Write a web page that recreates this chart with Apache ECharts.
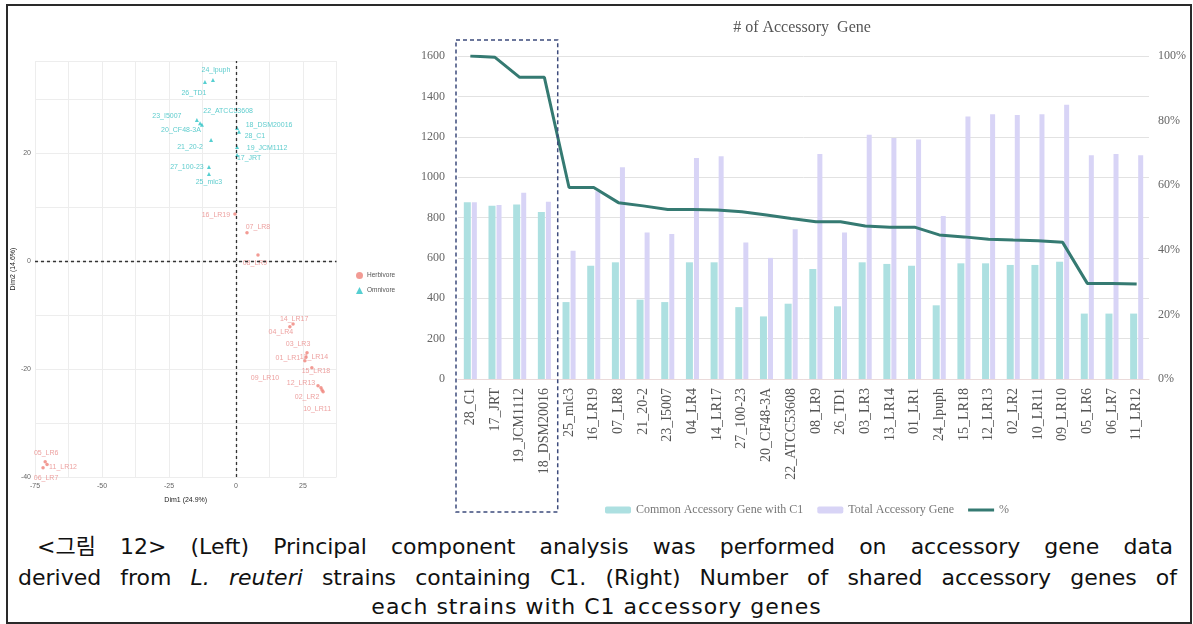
<!DOCTYPE html>
<html>
<head>
<meta charset="utf-8">
<script src="https://cdn.jsdelivr.net/npm/echarts@6/dist/echarts.min.js"></script>
<style>
  html, body { margin: 0; padding: 0; background: #fff; }
  #frame { position: absolute; left: 6px; top: 4px; width: 1182px; height: 616px; border: 2px solid #2a2a2a; }
  #chart { position: absolute; left: 0; top: 0; width: 1193px; height: 524px; }
  .cap { position: absolute; font-family: 'DejaVu Sans', 'Noto Sans CJK KR', sans-serif; font-size: 22px;
         color: #111; line-height: 30px; white-space: nowrap; }
  .just { text-align: justify; text-align-last: justify; white-space: normal; }
</style>
</head>
<body>
<div id="frame"></div>
<div id="chart"></div>
<div class="cap just" style="left:37px; top:532px; width:1136px;">&lt;그림 12&gt; (Left) Principal component analysis was performed on accessory gene data</div>
<div class="cap just" style="left:18px; top:563px; width:1159px;">derived from <i>L. reuteri</i> strains containing C1. (Right) Number of shared accessory genes of</div>
<div class="cap" style="left:0; top:592px; width:1193px; text-align:center; letter-spacing:1px;">each strains with C1 accessory genes</div>
<script>
// ---- PCA of accessory gene content (Dim1 / Dim2 scores) ----
const herbNames = ['16_LR19', '07_LR8', '08_LR9', '14_LR17', '04_LR4', '03_LR3', '01_LR1', '13_LR14',
                   '15_LR18', '09_LR10', '12_LR13', '02_LR2', '10_LR11', '05_LR6', '11_LR12', '06_LR7'];
const herbDim1 = [-0.4, 4.1, 8.2, 21.3, 20.1, 26.5, 25.7, 26.1, 28.3, 30.6, 31.7, 32.1, 32.5, -71.2, -70.5, -72.0];
const herbDim2 = [8.7, 5.2, 1.1, -11.7, -12.2, -17.0, -18.5, -17.8, -19.8, -23.1, -23.5, -23.9, -24.2, -37.2, -37.7, -38.3];

const omniNames = ['24_lpuph', '26_TD1', '23_I5007', '22_ATCC53608', '20_CF48-3A', '21_20-2',
                   '27_100-23', '25_mlc3', '18_DSM20016', '28_C1', '19_JCM1112', '17_JRT'];
const omniDim1 = [-8.6, -11.6, -14.6, -13.4, -12.7, -9.3, -10.1, -10.1, 0.4, 1.1, 0.4, 0.4];
const omniDim2 = [33.5, 33.1, 26.1, 25.5, 25.2, 22.4, 17.4, 16.1, 24.6, 23.9, 21.1, 19.6];

// ---- accessory genes shared with C1 ----
const strains = ['28_C1', '17_JRT', '19_JCM1112', '18_DSM20016', '25_mlc3', '16_LR19', '07_LR8', '21_20-2',
                 '23_I5007', '04_LR4', '14_LR17', '27_100-23', '20_CF48-3A', '22_ATCC53608', '08_LR9', '26_TD1',
                 '03_LR3', '13_LR14', '01_LR1', '24_lpuph', '15_LR18', '12_LR13', '02_LR2', '10_LR11',
                 '09_LR10', '05_LR6', '06_LR7', '11_LR12'];
const commonGenes = [875, 858, 865, 827, 381, 561, 578, 393, 381, 578, 578, 356, 310, 373, 545, 360,
                     578, 570, 561, 365, 573, 573, 565, 565, 581, 324, 324, 324];
const totalGenes = [875, 862, 923, 878, 635, 930, 1049, 726, 718, 1095, 1103, 676, 600, 742, 1115, 726,
                    1210, 1194, 1186, 808, 1300, 1312, 1308, 1312, 1358, 1108, 1115, 1108];
const sharedPct = [100, 99.6, 93.4, 93.4, 59.3, 59.3, 54.6, 53.6, 52.5, 52.5, 52.3, 51.8, 50.8, 49.7, 48.7, 48.7,
                   47.4, 47.0, 47.0, 44.6, 44.0, 43.3, 43.0, 42.8, 42.3, 29.6, 29.6, 29.4];

// repelled label placement (pixel offset of each label from its point)
const labelNudge = {
  '24_lpuph': [3, -10], '26_TD1': [-11, 11], '23_I5007': [-30, -4], '22_ATCC53608': [28, -12],
  '20_CF48-3A': [-21, 5], '21_20-2': [-21, 7], '27_100-23': [-22, 0], '25_mlc3': [0, 8],
  '18_DSM20016': [32, -3], '28_C1': [16, 4], '19_JCM1112': [30, 1], '17_JRT': [12, 3],
  '16_LR19': [-19, 1], '07_LR8': [11, -6], '08_LR9': [-3, 8], '14_LR17': [1, -5], '04_LR4': [-9, 5],
  '03_LR3': [-9, -9], '01_LR1': [-17, -3], '13_LR14': [8, 0], '15_LR18': [4, 3], '09_LR10': [-53, -8],
  '12_LR13': [-20, -5], '02_LR2': [-15, 7], '10_LR11': [-6, 17], '05_LR6': [1, -9], '11_LR12': [16, 2],
  '06_LR7': [3, 10]
};

function scores(names, xs, ys) {
  return names.map((n, i) => ({
    name: n,
    value: [xs[i], ys[i]],
    label: { offset: labelNudge[n] || [0, -6] }
  }));
}

const serif = 'Liberation Serif';
const sans = 'Liberation Sans';
const HERB = '#ef8279', OMNI = '#2cc3c6';
const LINE = '#357a72';

const chart = echarts.init(document.getElementById('chart'), null, { renderer: 'canvas' });

const option = {
  animation: false,
  backgroundColor: 'transparent',
  graphic: [{
    type: 'text', x: 802, y: 28,
    style: { text: '# of Accessory  Gene', fontFamily: serif, fontSize: 16, fill: '#555',
             textAlign: 'center', textVerticalAlign: 'middle' }
  }],
  legend: [{
    data: ['Common Accessory Gene with C1', 'Total Accessory Gene',
           { name: '%', icon: 'path://M0,0 L26,0 L26,3 L0,3 Z' }],
    left: 600, top: 499, itemWidth: 26, itemHeight: 7, itemGap: 14,
    textStyle: { fontFamily: serif, fontSize: 12, color: '#777' }
  }, {
    data: [{ name: 'Herbivore', icon: 'circle' }, { name: 'Omnivore', icon: 'triangle' }],
    orient: 'vertical', left: 351, top: 267, itemWidth: 7, itemHeight: 7, itemGap: 8,
    textStyle: { fontFamily: sans, fontSize: 6.5, color: '#555', padding: [0, 0, 0, -1] }
  }],
  grid: [
    { left: 35, top: 61, width: 301.5, height: 416 },
    { left: 458, right: 44, top: 56, bottom: 145 }
  ],
  xAxis: [{
    type: 'value', gridIndex: 0, min: -75, max: 37.5, interval: 12.5,
    name: 'Dim1 (24.9%)', nameLocation: 'middle', nameGap: 20,
    nameTextStyle: { fontFamily: sans, fontSize: 7, color: '#222' },
    axisLine: { show: false },
    axisTick: { show: false },
    axisLabel: { fontFamily: sans, fontSize: 7, color: '#666', margin: 6,
                 formatter: v => (v % 25 === 0 ? String(v) : '') },
    splitLine: { lineStyle: { color: '#ededed', width: 1 } }
  }, {
    type: 'category', gridIndex: 1, data: strains,
    axisLine: { lineStyle: { color: '#eadada', width: 1 } },
    axisTick: { show: false },
    axisLabel: { rotate: 90, fontFamily: serif, fontSize: 14, color: '#555', margin: 9, interval: 0 },
    splitLine: { show: false }
  }],
  yAxis: [{
    type: 'value', gridIndex: 0, min: -40, max: 37, interval: 10,
    name: 'Dim2 (14.6%)', nameLocation: 'middle', nameGap: 13, nameRotate: 90,
    nameTextStyle: { fontFamily: sans, fontSize: 7, color: '#222' },
    axisLine: { show: false },
    axisTick: { show: false },
    axisLabel: { fontFamily: sans, fontSize: 7, color: '#666', margin: 4, showMaxLabel: false,
                 formatter: v => (v % 20 === 0 ? String(v) : '') },
    splitLine: { lineStyle: { color: '#ededed', width: 1 } }
  }, {
    type: 'value', gridIndex: 1, min: 0, max: 1600, interval: 200,
    axisLine: { show: false }, axisTick: { show: false },
    axisLabel: { fontFamily: serif, fontSize: 12, color: '#666', margin: 13, formatter: v => String(v) },
    splitLine: { lineStyle: { color: '#e2e2e2', width: 1 } }
  }, {
    type: 'value', gridIndex: 1, min: 0, max: 100, interval: 20, position: 'right',
    axisLine: { show: false }, axisTick: { show: false },
    axisLabel: { fontFamily: serif, fontSize: 12, color: '#666', margin: 9, formatter: '{value}%' },
    splitLine: { show: false }
  }],
  series: [{
    name: 'Herbivore', type: 'scatter', xAxisIndex: 0, yAxisIndex: 0,
    symbol: 'circle', symbolSize: 3.5,
    itemStyle: { color: HERB },
    data: scores(herbNames, herbDim1, herbDim2),
    label: { show: true, position: 'inside', formatter: '{b}', fontFamily: sans, fontSize: 7, color: '#e98a88' },
    markLine: {
      silent: true, symbol: 'none', label: { show: false },
      lineStyle: { type: [3, 3], color: '#333', width: 1.3 },
      data: [{ xAxis: 0 }, { yAxis: 0 }]
    },
    z: 3
  }, {
    name: 'Omnivore', type: 'scatter', xAxisIndex: 0, yAxisIndex: 0,
    symbol: 'triangle', symbolSize: 4,
    itemStyle: { color: OMNI },
    data: scores(omniNames, omniDim1, omniDim2),
    label: { show: true, position: 'inside', formatter: '{b}', fontFamily: sans, fontSize: 7, color: '#34bfc0' },
    z: 3
  }, {
    name: 'Common Accessory Gene with C1', type: 'bar', xAxisIndex: 1, yAxisIndex: 1,
    data: commonGenes, barWidth: 7, barGap: '15%',
    itemStyle: { color: '#ade0e1' }
  }, {
    name: 'Total Accessory Gene', type: 'bar', xAxisIndex: 1, yAxisIndex: 1,
    data: totalGenes, barWidth: 5,
    itemStyle: { color: '#d8d4f6' }
  }, {
    name: '%', type: 'line', xAxisIndex: 1, yAxisIndex: 2,
    data: sharedPct, symbol: 'none', showSymbol: false, symbolKeepAspect: true,
    lineStyle: { color: LINE, width: 3 },
    itemStyle: { color: LINE },
    z: 5
  }]
};

chart.setOption(option);

// dashed outline around the reference group (first four strains)
const x0 = chart.convertToPixel({ xAxisIndex: 1 }, strains[0]);
const x3 = chart.convertToPixel({ xAxisIndex: 1 }, strains[3]);
const band = chart.convertToPixel({ xAxisIndex: 1 }, strains[1]) - x0;
const boxL = x0 - band / 2 - 2, boxR = x3 + band / 2 + 1;
chart.setOption({
  graphic: [option.graphic[0], {
    type: 'rect', silent: true, z: 10,
    shape: { x: boxL, y: 40, width: boxR - boxL, height: 472 },
    style: { fill: 'none', stroke: '#3d4b7c', lineWidth: 1.5, lineDash: [4, 3] }
  }]
});
</script>
</body>
</html>
